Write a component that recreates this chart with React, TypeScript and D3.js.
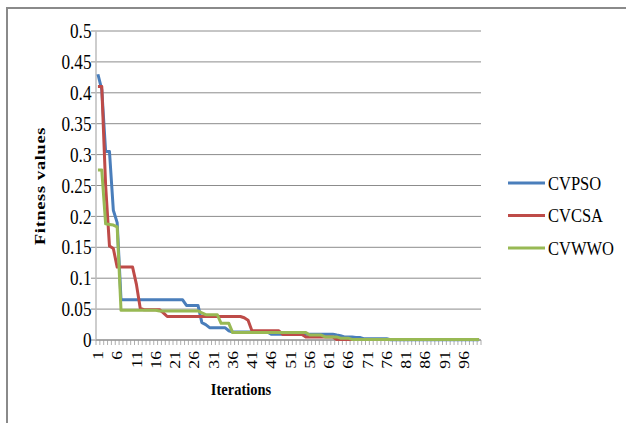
import React from "react";
import * as d3 from "d3";

// Iteration numbers 1..100
const iterations: number[] = Array.from({ length: 100 }, (_, i) => i + 1);

const rep = (v: number, n: number): number[] => Array(n).fill(v);

// Best fitness per iteration
const cvpso: number[] = [
  0.43, 0.405, 0.305, 0.305, 0.21, 0.19,
  ...rep(0.065, 17),
  ...rep(0.056, 4),
  0.028, 0.025,
  ...rep(0.02, 5),
  0.015,
  ...rep(0.013, 10),
  ...rep(0.0095, 17),
  0.008, 0.007,
  ...rep(0.005, 3),
  ...rep(0.004, 2),
  ...rep(0.002, 7),
  ...rep(0.0005, 24),
];

const cvcsa: number[] = [
  0.41, 0.41, 0.25, 0.152, 0.148, 0.118,
  ...rep(0.118, 4),
  0.09, 0.051,
  ...rep(0.049, 5),
  0.044,
  ...rep(0.038, 20),
  0.036, 0.032,
  ...rep(0.015, 8),
  ...rep(0.009, 6),
  ...rep(0.005, 8),
  ...rep(0.0008, 38),
];

const cvwwo: number[] = [
  0.275, 0.275, 0.188, 0.187, 0.186, 0.183,
  ...rep(0.048, 10),
  ...rep(0.047, 11),
  0.044,
  ...rep(0.041, 4),
  ...rep(0.027, 3),
  ...rep(0.012, 20),
  ...rep(0.008, 4),
  ...rep(0.005, 4),
  ...rep(0.003, 3),
  ...rep(0.001, 34),
];

const seriesNames: string[] = ["CVPSO", "CVCSA", "CVWWO"];
const seriesColors: string[] = ["#4A7EBB", "#BE4B48", "#98B954"];
const yTicks: number[] = [0, 0.05, 0.1, 0.15, 0.2, 0.25, 0.3, 0.35, 0.4, 0.45, 0.5];

const W = 626;
const H = 423;
const plot = { left: 96, right: 481, top: 31, bottom: 340 };
const serif = "'Liberation Serif', 'Times New Roman', serif";
// glyphs are drawn slightly taller than wide
const stretch = 1.18;

export default function App() {
  const x = d3
    .scaleBand<number>()
    .domain(iterations)
    .range([plot.left, plot.right]);
  const y = d3.scaleLinear().domain([0, 0.5]).range([plot.bottom, plot.top]);
  const cx = (d: number) => (x(d) as number) + x.bandwidth() / 2;

  const allSeries = [cvpso, cvcsa, cvwwo];
  const line = d3
    .line<number>()
    .x((_, i) => cx(iterations[i]))
    .y((v) => y(v));

  const tickEdges = [...iterations.map((d) => x(d) as number), plot.right];
  const labelled = iterations.filter((d) => (d - 1) % 5 === 0);

  return (
    <svg
      width={W}
      height={H}
      style={{ position: "absolute", left: 0, top: 0, background: "#fff" }}
    >
      {/* chart frame */}
      <rect x={7} y={8} width={700} height={500} fill="none" stroke="#8a8a8a" strokeWidth={2} />

      {/* gridlines and y labels */}
      {yTicks.map((t) => (
        <g key={t}>
          <line
            x1={plot.left - 5}
            x2={plot.right}
            y1={y(t)}
            y2={y(t)}
            stroke="#8c8c8c"
            strokeWidth={1}
          />
          <text
            transform={`translate(91.5,${y(t)}) scale(1,${stretch})`}
            dy="0.35em"
            textAnchor="end"
            fontFamily={serif}
            fontSize={17.2}
            fill="#000"
          >
            {String(t)}
          </text>
        </g>
      ))}

      {/* y axis */}
      <line x1={plot.left} x2={plot.left} y1={plot.top} y2={plot.bottom} stroke="#bdbdbd" strokeWidth={1.5} />

      {/* x axis with category ticks */}
      <line x1={plot.left} x2={plot.right} y1={plot.bottom} y2={plot.bottom} stroke="#8c8c8c" strokeWidth={1} />
      {tickEdges.map((e, i) => (
        <line key={i} x1={e} x2={e} y1={plot.bottom} y2={plot.bottom + 5} stroke="#9a9a9a" strokeWidth={0.8} />
      ))}
      {labelled.map((d) => (
        <text
          key={d}
          transform={`translate(${cx(d)},${plot.bottom + 11}) rotate(-90) scale(${stretch},1)`}
          textAnchor="end"
          dy="0.35em"
          fontFamily={serif}
          fontSize={15}
          fill="#000"
        >
          {d}
        </text>
      ))}

      {/* series */}
      {allSeries.map((s, k) => (
        <path
          key={seriesNames[k]}
          d={line(s) || ""}
          fill="none"
          stroke={seriesColors[k]}
          strokeWidth={3}
          strokeLinejoin="round"
        />
      ))}

      {/* axis titles */}
      <text
        transform={`translate(45,186) rotate(-90) scale(${stretch},1)`}
        textAnchor="middle"
        fontFamily={serif}
        fontWeight="bold"
        fontSize={15.5}
        letterSpacing={0.6}
        fill="#000"
      >
        Fitness values
      </text>
      <text
        transform={`translate(241,395) scale(1,${stretch})`}
        textAnchor="middle"
        fontFamily={serif}
        fontWeight="bold"
        fontSize={14.5}
        fill="#000"
      >
        Iterations
      </text>

      {/* legend */}
      {seriesNames.map((n, k) => {
        const ly = 183 + k * 32.5;
        return (
          <g key={n}>
            <line x1={508} x2={545} y1={ly} y2={ly} stroke={seriesColors[k]} strokeWidth={3} />
            <text
              transform={`translate(548,${ly}) scale(1,${stretch})`}
              dy="0.35em"
              fontFamily={serif}
              fontSize={16.5}
              fill="#000"
            >
              {n}
            </text>
          </g>
        );
      })}
    </svg>
  );
}
